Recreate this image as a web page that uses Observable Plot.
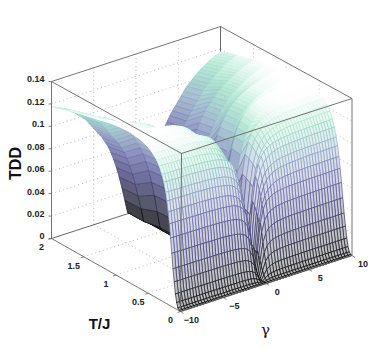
<!DOCTYPE html>
<html><head><meta charset="utf-8">
<style>html,body{margin:0;padding:0;background:#fff}svg{display:block}</style>
<script src="https://cdn.jsdelivr.net/npm/d3@7"></script>
<script src="https://cdn.jsdelivr.net/npm/@observablehq/plot@0.6"></script>
</head><body><div id="chart"></div>
<script>
const tempJ=[0,.02,.04,.06,.08,.1,.12,.14,.16,.18,.2,.22,.24,.27,.3,.34,.38,.44,.5,.62,.75,.9,1.1,1.3,1.5,1.75,2];
const gammaAbs=[0,.33,.67,1,1.33,1.67,2,2.33,2.67,3,3.33,3.67,4,4.33,4.67,5,5.33,5.67,6,6.33,6.67,7,7.33,7.67,8,8.33,8.67,9,9.33,9.67,10];
// estimated TDD x 10000, one row per tempJ, one column per gammaAbs
const tddE4=[
[0,0,0,0,0,0,0,0,0,0,0,0,0,0,0,0,0,0,0,0,0,0,0,0,0,0,0,0,0,0,0],
[0,1,2,2,3,3,3,3,3,3,3,3,3,3,3,3,3,3,3,3,3,3,3,3,3,3,3,3,3,3,3],
[0,6,13,16,18,18,19,19,19,19,20,20,20,20,20,20,20,20,20,20,20,20,20,20,20,20,20,20,20,20,20],
[0,19,38,48,53,55,56,58,58,58,59,59,59,59,59,59,59,60,60,60,60,60,60,60,60,60,60,60,60,60,60],
[0,40,83,104,114,120,122,125,126,126,127,128,128,128,129,129,129,129,129,129,129,129,129,129,130,130,130,130,130,130,130],
[0,71,147,184,202,212,216,221,222,224,225,226,227,227,227,228,228,228,228,229,229,229,229,229,229,229,230,230,230,230,230],
[0,105,218,272,299,313,320,326,328,331,333,334,335,336,336,337,337,337,338,338,338,338,339,339,339,339,339,339,340,340,340],
[0,146,301,376,414,432,442,451,454,457,460,462,463,464,465,465,466,466,467,467,468,468,468,468,469,469,469,469,470,470,470],
[0,186,384,480,528,552,564,576,580,584,587,589,591,592,593,594,595,595,596,596,597,597,598,598,598,598,599,599,599,599,600],
[0,223,461,576,634,662,677,691,696,701,704,707,709,711,712,713,714,714,715,716,716,716,717,717,718,718,719,719,719,719,720],
[0,197,451,607,681,726,752,769,781,789,795,799,802,804,807,809,810,811,812,813,814,815,815,816,816,817,817,818,818,818,820],
[0,218,501,673,755,805,834,854,866,875,882,886,890,893,895,897,899,900,901,903,904,905,905,905,905,906,906,907,907,908,910],
[0,235,539,725,813,867,899,919,933,943,950,955,958,961,964,966,968,969,970,972,973,974,974,975,975,976,976,977,977,978,980],
[0,254,583,784,880,938,972,994,1009,1020,1027,1032,1037,1040,1043,1045,1047,1048,1049,1052,1053,1054,1054,1055,1055,1056,1056,1057,1057,1058,1060],
[0,269,616,829,930,991,1027,1051,1066,1077,1085,1091,1095,1099,1102,1104,1107,1108,1109,1111,1112,1113,1113,1114,1114,1116,1116,1117,1117,1118,1120],
[0,177,484,720,873,968,1023,1062,1088,1109,1121,1133,1142,1148,1153,1158,1161,1163,1167,1168,1171,1172,1173,1174,1175,1176,1178,1178,1179,1179,1180],
[0,183,500,744,903,1000,1058,1098,1125,1147,1159,1171,1181,1187,1192,1197,1200,1203,1207,1208,1210,1211,1213,1214,1215,1216,1218,1218,1219,1219,1220],
[0,189,517,769,932,1033,1092,1134,1162,1184,1197,1210,1220,1226,1231,1236,1240,1242,1246,1247,1250,1251,1252,1254,1255,1256,1257,1257,1259,1259,1260],
[0,194,529,787,955,1058,1118,1161,1189,1213,1226,1238,1249,1255,1260,1265,1269,1272,1276,1277,1280,1281,1282,1284,1285,1286,1287,1287,1289,1289,1290],
[0,92,330,574,766,907,1006,1077,1127,1166,1196,1217,1236,1249,1261,1271,1279,1284,1291,1295,1299,1303,1305,1308,1311,1312,1315,1316,1317,1319,1320],
[0,93,333,580,773,916,1016,1088,1138,1177,1208,1229,1248,1261,1273,1284,1292,1297,1304,1308,1312,1316,1318,1321,1324,1325,1328,1329,1330,1332,1333],
[0,0,80,267,441,587,721,828,908,975,1028,1068,1108,1135,1161,1181,1202,1215,1228,1242,1255,1262,1268,1282,1288,1295,1302,1308,1315,1322,1335],
[0,0,79,264,436,581,713,818,898,964,1016,1056,1096,1122,1148,1168,1188,1201,1214,1228,1241,1247,1254,1267,1274,1280,1287,1294,1300,1307,1320],
[0,0,0,39,194,348,477,593,684,761,826,877,929,968,1006,1032,1071,1097,1122,1135,1161,1174,1193,1206,1219,1232,1245,1258,1264,1277,1290],
[0,0,0,38,189,341,467,581,669,745,808,858,909,947,984,1010,1047,1073,1098,1111,1136,1148,1167,1180,1193,1205,1218,1230,1237,1249,1262],
[0,0,0,12,135,257,368,466,551,625,686,735,784,821,858,894,931,968,1005,1029,1054,1078,1103,1121,1139,1158,1176,1188,1201,1213,1225],
[0,0,0,12,129,247,353,447,529,599,658,705,752,787,823,858,893,928,964,987,1011,1034,1058,1075,1093,1110,1128,1140,1152,1163,1175]
];
const zTicks=[0,.02,.04,.06,.08,.1,.12,.14];
const zLabels=["0","0.02","0.04","0.06","0.08","0.1","0.12","0.14"];
const tTicks=[0,.5,1,1.5,2];
const tLabels=["0","0.5","1","1.5","2"];
const gTicks=[-10,-5,0,5,10];
const gLabels=["\u221210","\u22125","0","5","10"];
const colorZ=[0,.02,.045,.07,.09,.105,.113,.12,.126,.131];
const colorHex=["#000000","#2b2b42","#48487f","#6f73ad","#8fa8c4","#98cfc8","#a8e4cc","#cdf2e4","#f2fbf8","#ffffff"];

// box corners on the page: [T=0 or 2][gamma=-10 or 10][z=0 or .14]
const corners=[[[[180,311],[181,153]],[[351.5,255],[351.5,98]]],[[[51,238],[51,81]],[[220,183],[220,26]]]];
const mix=(a,b,t)=>[a[0]+(b[0]-a[0])*t,a[1]+(b[1]-a[1])*t];
function project(t,g,z){
  const u=t/2,v=(g+10)/20,w=z/.14;
  const side=k=>mix(mix(corners[0][0][k],corners[0][1][k],v),mix(corners[1][0][k],corners[1][1][k],v),u);
  const p=mix(side(0),side(1),w);
  return {px:p[0],py:p[1]};
}
const colorOf=d3.scaleLinear().domain(colorZ).range(colorHex).interpolate(d3.interpolateRgb).clamp(true);
const whiteShare=d3.scaleLinear().domain([.3,.6]).range([.72,.2]).clamp(true);
const gammas=[...gammaAbs.slice(1).reverse().map(g=>-g),...gammaAbs];
const zRow=r=>[...r.slice(1).reverse(),...r].map(v=>v/1e4);
const zGrid=tddE4.map(zRow);

const quads=[];
let id=0;
for(let i=tempJ.length-2;i>=0;i--){
  for(let j=gammas.length-2;j>=0;j--){
    const cells=[[i,j],[i,j+1],[i+1,j+1],[i+1,j],[i,j]];
    const m=d3.mean(cells.slice(0,4),([a,b])=>zGrid[a][b]);
    const c=colorOf(m), f=d3.interpolateRgb(c,"#fff")(whiteShare(tempJ[i]));
    for(const [a,b] of cells) quads.push({id,c,f,...project(tempJ[a],gammas[b],zGrid[a][b])});
    id++;
  }
}
const seg=(a,b)=>{const p=project(...a),q=project(...b);return {x1:p.px,y1:p.py,x2:q.px,y2:q.py};};
const grid=[
  ...gTicks.slice(1,-1).flatMap(g=>[seg([0,g,0],[2,g,0]),seg([2,g,0],[2,g,.14])]),
  ...tTicks.slice(1,-1).flatMap(t=>[seg([t,-10,0],[t,10,0]),seg([t,10,0],[t,10,.14])]),
  ...zTicks.slice(1,-1).flatMap(z=>[seg([2,-10,z],[2,10,z]),seg([2,10,z],[0,10,z])])
];
const backBox=[seg([2,-10,0],[2,10,0]),seg([2,10,0],[0,10,0]),seg([2,10,0],[2,10,.14])];
const frontBox=[
  seg([2,-10,0],[2,-10,.14]),seg([2,-10,.14],[2,10,.14]),seg([2,10,.14],[0,10,.14]),
  seg([0,10,.14],[0,-10,.14]),seg([0,-10,.14],[2,-10,.14]),seg([0,-10,.14],[0,-10,0]),
  seg([0,10,.14],[0,10,0]),seg([2,-10,0],[0,-10,0]),seg([0,-10,0],[0,10,0])
];
const tickMarks=[
  ...zTicks.map(z=>{const p=project(2,-10,z);return {x1:p.px-3,y1:p.py,x2:p.px,y2:p.py};}),
  ...tTicks.map(t=>{const p=project(t,-10,0);return {x1:p.px-3,y1:p.py+1,x2:p.px,y2:p.py};}),
  ...gTicks.map(g=>{const p=project(0,g,0);return {x1:p.px+3,y1:p.py+2,x2:p.px,y2:p.py};})
];
const zText=zTicks.map((z,k)=>({...project(2,-10,z),s:zLabels[k]}));
const tText=tTicks.map((t,k)=>({...project(t,-10,0),s:tLabels[k]}));
const gText=gTicks.map((g,k)=>({...project(0,g,0),s:gLabels[k]}));
const tickFont={fontFamily:"Liberation Sans",fontSize:9,fontWeight:"bold",fill:"#222"};

const chart=Plot.plot({
  width:388,height:350,margin:0,
  x:{domain:[0,388],range:[0,388],axis:null},
  y:{domain:[0,350],range:[0,350],axis:null},
  color:{type:"identity"},
  style:{background:"#fff"},
  marks:[
    Plot.link(grid,{x1:"x1",y1:"y1",x2:"x2",y2:"y2",stroke:"#aaa",strokeWidth:.8,strokeDasharray:"1 3"}),
    Plot.link(backBox,{x1:"x1",y1:"y1",x2:"x2",y2:"y2",stroke:"#666",strokeWidth:1}),
    Plot.line(quads,{x:"px",y:"py",z:"id",fill:"f",stroke:"c",strokeWidth:.7}),
    Plot.link(frontBox,{x1:"x1",y1:"y1",x2:"x2",y2:"y2",stroke:"#666",strokeWidth:1,strokeOpacity:.9}),
    Plot.link(tickMarks,{x1:"x1",y1:"y1",x2:"x2",y2:"y2",stroke:"#666",strokeWidth:.8}),
    Plot.text(zText,{x:"px",y:"py",text:"s",textAnchor:"end",dx:-7,dy:-2,...tickFont}),
    Plot.text(tText,{x:"px",y:"py",text:"s",dx:-10,dy:9,...tickFont}),
    Plot.text(gText,{x:"px",y:"py",text:"s",dx:11,dy:9,...tickFont}),
    Plot.text(["TDD"],{x:()=>15,y:()=>163,text:d=>d,rotate:-90,fontFamily:"Liberation Sans",fontSize:16,fontWeight:"bold",fill:"#111"}),
    Plot.text(["T/J"],{x:()=>99,y:()=>324,text:d=>d,fontFamily:"Liberation Sans",fontSize:15,fontWeight:"bold",fill:"#111"}),
    Plot.text(["\u03b3"],{x:()=>265,y:()=>330,text:d=>d,fontFamily:"DejaVu Serif",fontSize:15,fill:"#111"})
  ]
});
document.getElementById("chart").appendChild(chart);
</script></body></html>
